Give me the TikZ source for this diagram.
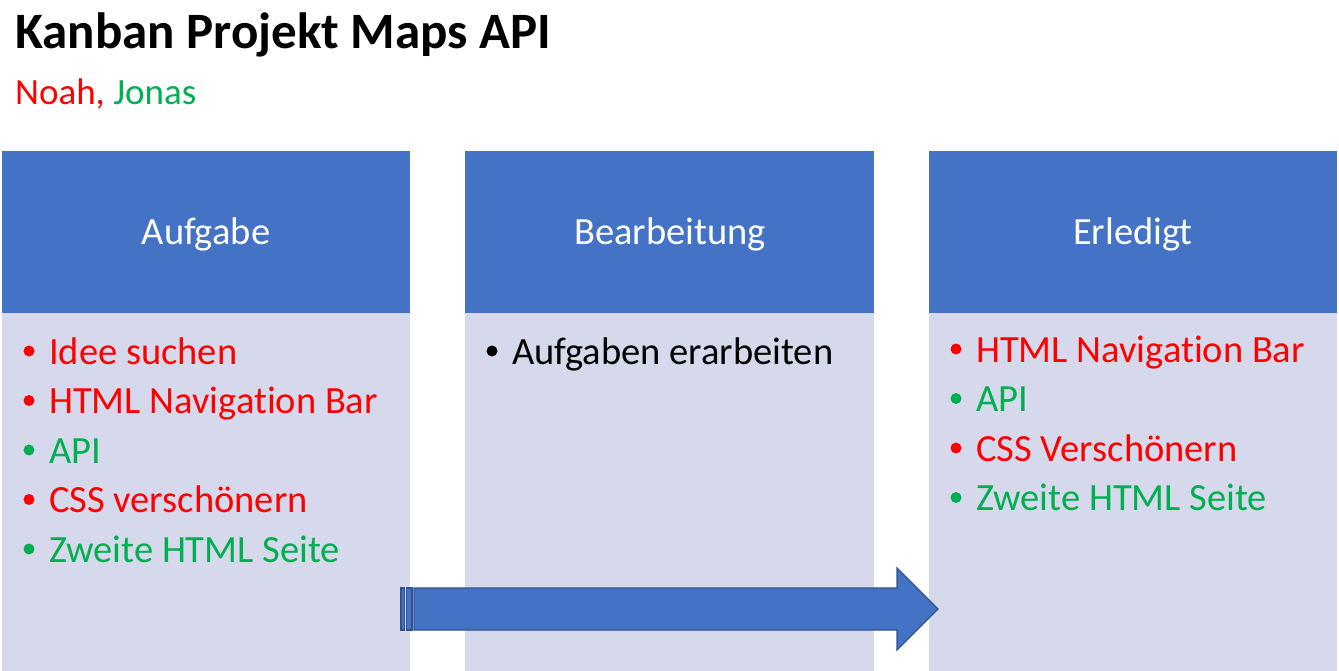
\documentclass[tikz,border=0pt]{standalone}
\usepackage{fontspec}
\setmainfont[Ligatures={TeX,NoCommon}]{Carlito}
\definecolor{hdr}{HTML}{4472C4}
\definecolor{bod}{HTML}{D5D9EB}
\definecolor{edge}{HTML}{2F528F}
\definecolor{red}{HTML}{FF0000}
\definecolor{grn}{HTML}{00B050}
\begin{document}
\begin{tikzpicture}[x=1pt,y=-1pt,
  hbox/.style={fill=hdr,draw=none},
  bbox/.style={fill=bod,draw=none},
  htext/.style={text=white,font=\fontsize{38.5}{44}\selectfont,anchor=base,inner sep=0pt},
  item/.style={font=\fontsize{38.5}{44}\selectfont,anchor=base west,inner sep=0pt},
  bul/.style={circle,inner sep=0pt,minimum size=11pt,draw=none},
  arr/.style={fill=hdr,draw=edge,line width=1.2pt}]
\useasboundingbox (0,0) rectangle (1339,671);
% columns
\fill[bbox] (2,313) rectangle (410,671);
\fill[hbox] (2,151) rectangle (410,313);
\fill[bbox] (465,313) rectangle (874,671);
\fill[hbox] (465,151) rectangle (874,313);
\fill[bbox] (929,313) rectangle (1337,671);
\fill[hbox] (929,151) rectangle (1337,313);
% title
\node[item,font=\fontsize{51}{58}\selectfont\bfseries] (title) at (15,49) {Kanban Projekt Maps API};
\node[item,font=\fontsize{37}{44}\selectfont] (names) at (15,105) {\textcolor{red}{Noah,} \textcolor{grn}{Jonas}};
% headers
\node[htext] (h1) at (206,245) {Aufgabe};
\node[htext] (h2) at (670,245) {Bearbeitung};
\node[htext] (h3) at (1133,245) {Erledigt};
% arrow
\draw[arr] (401,588) rectangle (404.5,630);
\draw[arr] (406.5,588) rectangle (412,630);
\draw[arr] (414,588) -- (897,588) -- (897,568) -- (938,609) -- (897,650) -- (897,630) -- (414,630) -- cycle;
% col1 items
\foreach \y/\c/\t [count=\i] in {364/red/Idee suchen,413.5/red/HTML Navigation Bar,463/grn/API,512.5/red/CSS verschönern,562/grn/Zweite HTML Seite}{
  \node[bul,fill=\c] (b1\i) at (29,\y-13) {};
  \node[item,text=\c] (a\i) at (49,\y) {\t};
}
% col2
\node[bul,fill=black] (b21) at (492,351) {};
\node[item] (c1) at (512,364) {Aufgaben erarbeiten};
% col3
\foreach \y/\c/\t [count=\i] in {362/red/HTML Navigation Bar,411.5/grn/API,461/red/CSS Verschönern,510.5/grn/Zweite HTML Seite}{
  \node[bul,fill=\c] (b3\i) at (956,\y-13) {};
  \node[item,text=\c] (e\i) at (976,\y) {\t};
}
\end{tikzpicture}
\end{document}
